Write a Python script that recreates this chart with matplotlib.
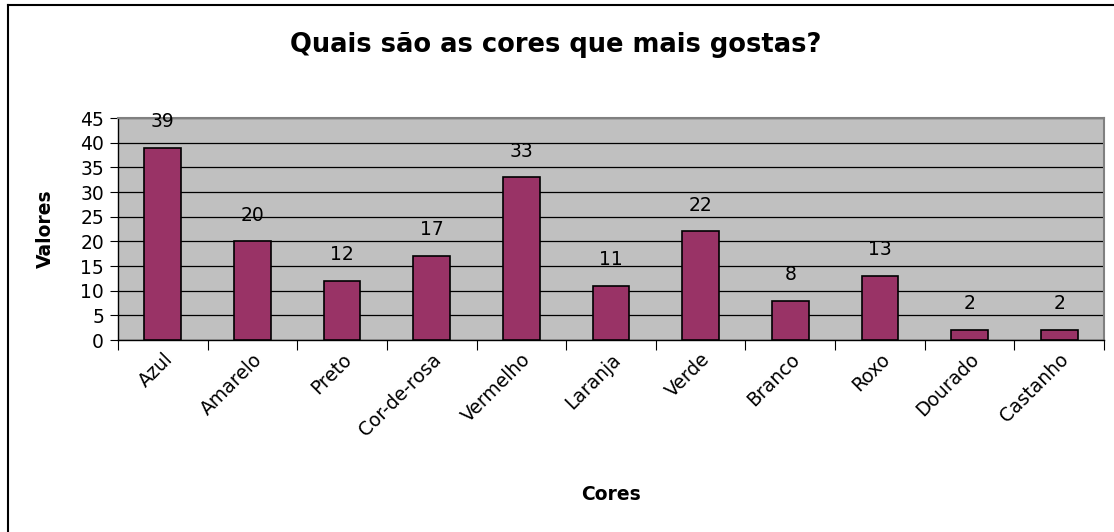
import matplotlib.pyplot as plt
import numpy as np
from matplotlib.lines import Line2D

# the reference text is wide (stretched Arial), DejaVu Sans comes closest
plt.rcParams['font.family'] = ['DejaVu Sans']

cores = ['Azul', 'Amarelo', 'Preto', 'Cor-de-rosa', 'Vermelho', 'Laranja',
         'Verde', 'Branco', 'Roxo', 'Dourado', 'Castanho']
valores = [39, 20, 12, 17, 33, 11, 22, 8, 13, 2, 2]
y_ticks = [0, 5, 10, 15, 20, 25, 30, 35, 40, 45]

fig = plt.figure(figsize=(11.14, 5.32), dpi=100)
fig.patch.set_facecolor('white')
ax = fig.add_axes([118/1114, 1 - 340/532, (1104 - 118)/1114, (340 - 118)/532])
ax.set_facecolor('#C0C0C0')

x = np.arange(len(cores))
ax.bar(x, valores, width=0.41, color='#993366', edgecolor='black', linewidth=1.2, zorder=3)

for xi, v in zip(x, valores):
    ax.annotate(str(v), (xi, v), xytext=(0, 12), textcoords='offset points',
                ha='center', va='bottom', fontsize=13.5)

ax.set_xlim(-0.5, len(cores) - 0.5)
ax.set_ylim(0, 45)
ax.set_yticks(y_ticks)
ax.tick_params(axis='y', labelsize=13.5, length=6, direction='out', pad=4)
ax.yaxis.grid(True, color='black', linewidth=0.9, zorder=1)

# category boundaries as ticks, names in between
ax.set_xticks(np.arange(-0.5, len(cores), 1.0))
ax.set_xticklabels([])
ax.tick_params(axis='x', which='major', length=7, direction='out')
ax.set_xticks(x, minor=True)
ax.set_xticklabels(cores, minor=True, rotation=45, ha='right', rotation_mode='anchor', fontsize=13.5)
ax.tick_params(axis='x', which='minor', length=0, pad=7)

for s in ['top', 'right']:
    ax.spines[s].set_color('#808080')
    ax.spines[s].set_linewidth(1.5)
for s in ['left', 'bottom']:
    ax.spines[s].set_color('black')
    ax.spines[s].set_linewidth(1)

ax.set_ylabel('Valores', fontsize=13.5, fontweight='bold', va='center')
ax.yaxis.set_label_coords((45 - 118)/986, 0.5)
ax.set_xlabel('Cores', fontsize=13.5, fontweight='bold', va='center')
ax.xaxis.set_label_coords(0.5, (340 - 495)/222)

fig.text(556/1114, 1 - 45/532, 'Quais são as cores que mais gostas?',
         ha='center', va='center', fontsize=18.5, fontweight='bold')

# chart border (top and left only visible in reference)
fig.add_artist(Line2D([8/1114, 8/1114], [0, 1 - 5/532], color='black', linewidth=1.5))
fig.add_artist(Line2D([8/1114, 1], [1 - 5/532, 1 - 5/532], color='black', linewidth=1.5))

fig.savefig('out.png', dpi=100)
